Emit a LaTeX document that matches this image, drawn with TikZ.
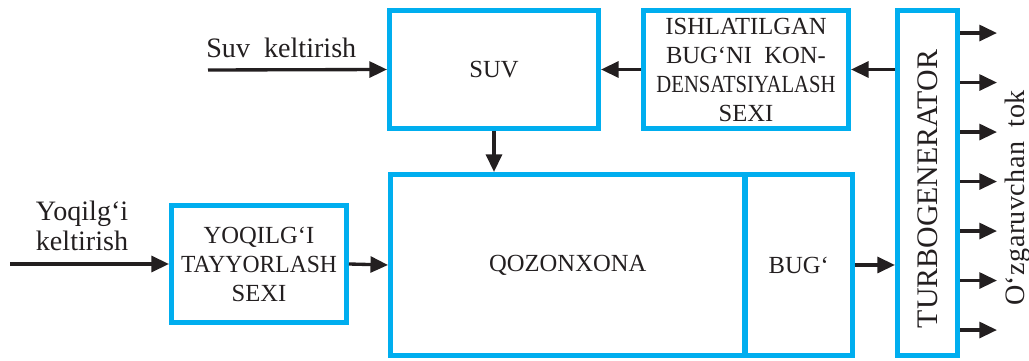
\documentclass[tikz,border=0pt]{standalone}
\usepackage{fontspec}
\setmainfont{Liberation Serif}
\usetikzlibrary{arrows.meta, positioning, calc}
\definecolor{boxblue}{HTML}{00AEEF}
\definecolor{inkblack}{HTML}{231F20}

\begin{document}
\begin{tikzpicture}[
    x=0.02cm, y=-0.02cm,
    every node/.append style={text=inkblack},
    box/.style={rectangle, draw=boxblue, line width=2.85pt, inner sep=0pt, align=center, font=\fontsize{14}{16.5}\selectfont},
    lbl/.style={inner sep=0pt, align=center, font=\fontsize{16}{17}\selectfont},
    arrow/.style={-{Triangle[length=10pt, width=9pt]}, line width=1.9pt, draw=inkblack},
]
\useasboundingbox (0,0) rectangle (1029,361);

\node[box, minimum width=4.18cm, minimum height=2.36cm] (suv) at (494,69.5) {SUV};
\node[box, minimum width=4.10cm, minimum height=2.36cm] (kond) at (746,69.5) {ISHLATILGAN\\BUG‘NI~~KON-\\\scalebox{0.84}[1]{DENSATSIYALASH}\\SEXI};
\node[box, minimum width=1.20cm, minimum height=6.90cm] (turbo) at (927.5,183) {};
\node[rotate=90, inner sep=0pt, font=\fontsize{17}{17}\selectfont] (turbotxt) at ($(turbo.center)+(0,6)$) {TURBOGENERATOR};

\node[box, minimum width=7.09cm, minimum height=3.62cm] (qozon) at (567.75,265) {QOZONXONA};
\node[box, minimum width=2.15cm, minimum height=3.62cm] (bug) at (798.75,265) {BUG‘};
\node[box, minimum width=3.50cm, minimum height=2.34cm] (yoq) at (259,264) {YOQILG‘I\\\scalebox{0.96}[1]{TAYYORLASH}\\SEXI};

\coordinate (suvin) at (208,70);
\node[lbl, anchor=south west] (suvtxt) at ($(suvin)+(-2,-12)$) {Suv~~keltirish};
\draw[arrow] (suvin) -- (suv.west);
\draw[arrow] (kond.west) -- (suv.east);
\draw[arrow] (turbo.west |- kond.east) -- (kond.east);
\draw[arrow] (suv.south) -- (suv.south |- qozon.north);

\coordinate (yoqin) at (10,264);
\node[lbl, anchor=south] (yoqtxt) at ($(yoqin)+(72,-13)$) {Yoqilg‘i\\keltirish};
\draw[arrow] (yoqin) -- (yoq.west);
\draw[arrow] (yoq.east) -- (qozon.west);
\draw[arrow] (bug.east) -- (turbo.west |- bug.east);

\foreach \i in {0,...,6}
  \coordinate (out\i) at ($(turbo.north east)+(37,25+49.5*\i)$);
\foreach \i in {0,...,6}
  \draw[arrow] (turbo.east |- out\i) -- (out\i);

\node[lbl, rotate=90, anchor=base, font=\fontsize{16}{17}\selectfont\addfontfeatures{LetterSpace=1.5}] (tok) at (1024,198) {O‘zgaruvchan~~tok};

\end{tikzpicture}
\end{document}
